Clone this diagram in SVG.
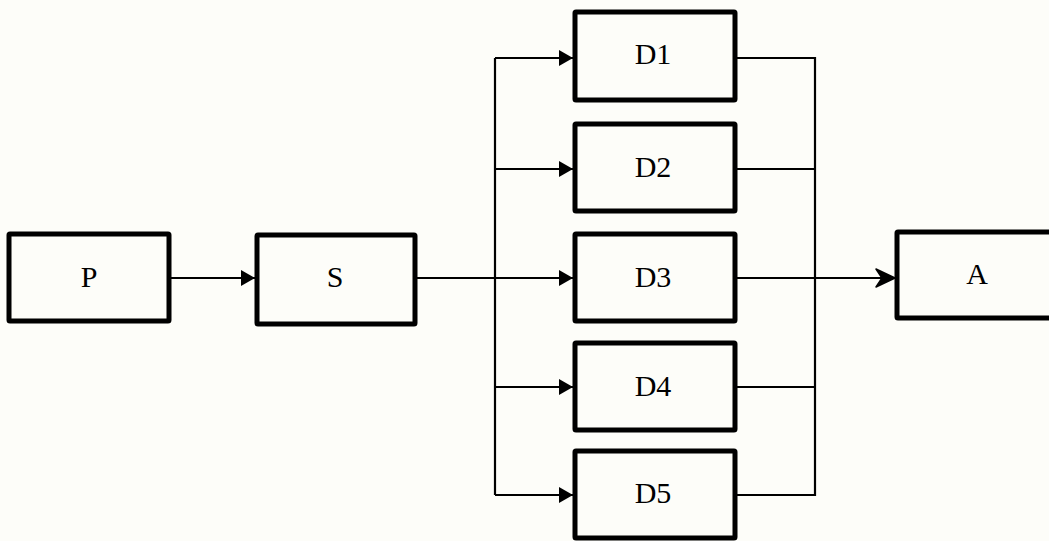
<svg xmlns="http://www.w3.org/2000/svg" width="1049" height="541" viewBox="0 0 1049 541">
<defs>
<style>
.box{fill:#fdfdf9;stroke:#000;stroke-width:5;stroke-linejoin:round}
.lbl{font-family:"Liberation Serif","Times New Roman",serif;font-size:30px;fill:#000;text-anchor:middle}
.ln{fill:none;stroke:#000;stroke-width:2.2}
</style>
<marker id="tri" markerUnits="userSpaceOnUse" markerWidth="16" markerHeight="18" refX="15" refY="9" orient="auto">
<path d="M1,1 L15,9 L1,17 Z" fill="#000"/>
</marker>
<marker id="barb" markerUnits="userSpaceOnUse" markerWidth="22" markerHeight="22" refX="20" refY="11" orient="auto">
<path d="M1,2 L20,11 L1,20 L7,11 Z" fill="#000" stroke="#000" stroke-width="1.5" stroke-linejoin="round"/>
</marker>
</defs>
<rect width="1049" height="541" fill="#fdfdf9"/>
<g id="connectors">
<line class="ln" x1="171" y1="278" x2="255" y2="278" marker-end="url(#tri)"/>
<line class="ln" x1="417" y1="278" x2="573" y2="278" marker-end="url(#tri)"/>
<polyline class="ln" points="495,495 495,58"/>
<line class="ln" x1="495" y1="58" x2="573" y2="58" marker-end="url(#tri)"/>
<line class="ln" x1="495" y1="169" x2="573" y2="169" marker-end="url(#tri)"/>
<line class="ln" x1="495" y1="387" x2="573" y2="387" marker-end="url(#tri)"/>
<line class="ln" x1="495" y1="495" x2="573" y2="495" marker-end="url(#tri)"/>
<polyline class="ln" points="737,58 815,58 815,495 737,495"/>
<line class="ln" x1="737" y1="169" x2="815" y2="169"/>
<line class="ln" x1="737" y1="387" x2="815" y2="387"/>
<line class="ln" x1="737" y1="278" x2="895" y2="278" marker-end="url(#barb)"/>
</g>
<g id="P"><rect class="box" x="9" y="234" width="160" height="87" rx="1"/><text class="lbl" x="89" y="287">P</text></g>
<g id="S"><rect class="box" x="257" y="235" width="158" height="89" rx="1"/><text class="lbl" x="335" y="287">S</text></g>
<g id="D1"><rect class="box" x="575" y="12" width="160" height="88" rx="1"/><text class="lbl" x="653" y="64">D1</text></g>
<g id="D2"><rect class="box" x="575" y="124" width="160" height="87" rx="1"/><text class="lbl" x="653" y="177">D2</text></g>
<g id="D3"><rect class="box" x="575" y="234" width="160" height="87" rx="1"/><text class="lbl" x="653" y="287">D3</text></g>
<g id="D4"><rect class="box" x="575" y="343" width="160" height="87" rx="1"/><text class="lbl" x="653" y="396">D4</text></g>
<g id="D5"><rect class="box" x="575" y="451" width="160" height="87" rx="1"/><text class="lbl" x="653" y="503">D5</text></g>
<g id="A"><rect class="box" x="897" y="232" width="160" height="86" rx="1"/><text class="lbl" x="977" y="284">A</text></g>
</svg>
